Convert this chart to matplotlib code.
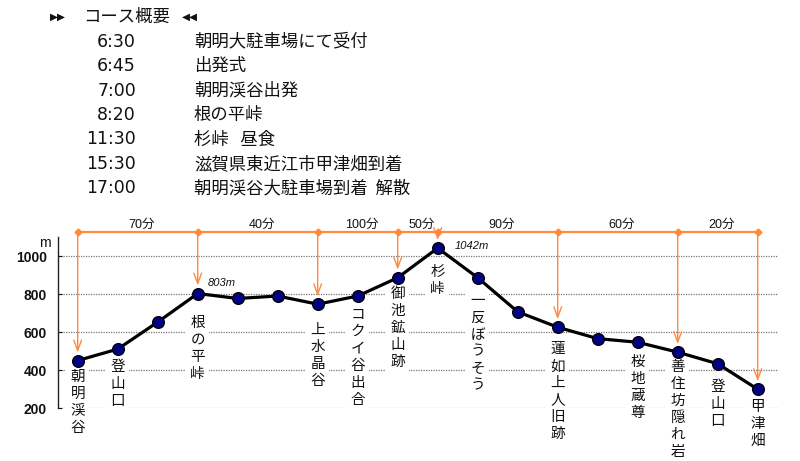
import matplotlib
matplotlib.use('Agg')
import matplotlib.pyplot as plt

# ---------------- data ----------------
place_names = ['朝明渓谷', '登山口', '', '根の平峠', '', '', '上水晶谷', 'コクイ谷出合',
               '御池鉱山跡', '杉峠', '一反ぼうそう', '', '蓮如上人旧跡', '', '桜地蔵尊',
               '善住坊隠れ岩', '登山口', '甲津畑']
elevations = [451, 511, 653, 803, 777, 790, 747, 790, 886, 1042, 886, 707, 626, 566,
              547, 495, 434, 300]
checkpoint_index = [0, 3, 6, 8, 9, 12, 15, 17]
durations = ['70分', '40分', '100分', '50分', '90分', '60分', '20分']
peak_notes = {3: '803m', 9: '1042m'}
y_ticks = [200, 400, 600, 800, 1000]

heading = 'コース概要'
times = ['6:30', '6:45', '7:00', '8:20', '11:30', '15:30', '17:00']
events = ['朝明大駐車場にて受付', '出発式', '朝明渓谷出発', '根の平峠', '杉峠   昼食',
          '滋賀県東近江市甲津畑到着', '朝明渓谷大駐車場到着  解散']

# ---------------- layout ----------------
W, H = 800, 461
PT = 0.72  # points per pixel at dpi 100
label_drop_px = {0: 16, 1: 18, 3: 29, 6: 26, 7: 19, 8: 16, 9: 24, 10: 23,
                 12: 22, 14: 20, 15: 15, 16: 23, 17: 18}
char_step_px = 17
orange = '#ff8a3d'
top_line_value = 1126
duration_value = 1163
CJK = 'Noto Sans CJK JP'

fig = plt.figure(figsize=(W / 100, H / 100), dpi=100)
fig.patch.set_facecolor('white')
ax = fig.add_axes([58 / W, (H - 408.3) / H, 720 / W, 171.3 / H])
ax.set_xlim(-0.4925, 17.5075)
ax.set_ylim(200, 1100)

for s in ['top', 'right', 'bottom']:
    ax.spines[s].set_visible(False)
ax.spines['left'].set_color('#222222')
ax.spines['left'].set_linewidth(1.0)
ax.set_xticks([])
ax.set_yticks(y_ticks)
ax.set_yticklabels([str(v) for v in y_ticks], fontfamily='Liberation Sans',
                   fontweight='bold', fontsize=10)
ax.tick_params(axis='y', direction='in', length=3, width=0.8, pad=8, colors='#111111')
ax.yaxis.grid(True, color='#777777', linestyle=(0, (1, 1)), linewidth=0.9, zorder=1)
ax.set_axisbelow(True)

ax.annotate('m', xy=(0, 1000), xycoords=('axes fraction', 'data'),
            xytext=(-13 * PT, 13.3 * PT), textcoords='offset points',
            ha='center', va='center', fontsize=10, fontfamily='Liberation Sans',
            color='#111111', annotation_clip=False)

# profile line
xs = list(range(len(elevations)))
ax.plot(xs, elevations, color='black', lw=2.3, marker='o', ms=8.5,
        mfc='#000080', mec='black', mew=0.9, zorder=5, solid_joinstyle='round')

# vertical place labels
for i, name in enumerate(place_names):
    if not name:
        continue
    drop = label_drop_px.get(i, 20)
    for k, ch in enumerate(name):
        ax.annotate(ch, xy=(i, elevations[i]), xytext=(0, -(drop + k * char_step_px) * PT),
                    textcoords='offset points', ha='center', va='center',
                    fontsize=10.5, fontfamily=CJK, color='#111111',
                    bbox=dict(boxstyle='square,pad=0.3', fc='white', ec='none'),
                    zorder=3, annotation_clip=False)

# orange timeline
ax.plot([checkpoint_index[0], checkpoint_index[-1]], [top_line_value] * 2,
        color=orange, lw=1.6, clip_on=False, zorder=4)
ax.plot(checkpoint_index, [top_line_value] * len(checkpoint_index), 'D', ms=3.5,
        color=orange, clip_on=False, zorder=4)
for i in checkpoint_index:
    ax.annotate('', xy=(i, elevations[i] + 42), xytext=(i, top_line_value),
                arrowprops=dict(arrowstyle='->,head_length=0.75,head_width=0.28',
                                color=orange, lw=1.0, shrinkA=0, shrinkB=0),
                annotation_clip=False, zorder=4)
for j, d in enumerate(durations):
    mid = (checkpoint_index[j] + checkpoint_index[j + 1]) / 2
    ax.annotate(d, xy=(mid, duration_value), xytext=(4 * PT, 0),
                textcoords='offset points', ha='center', va='center', fontsize=9,
                fontfamily=['Liberation Sans', CJK], color='#111111',
                annotation_clip=False)

# peak notes
note_offsets = {3: (10, 11), 9: (17, 2)}
for i, txt in peak_notes.items():
    dx, dy = note_offsets[i]
    ax.annotate(txt, xy=(i, elevations[i]), xytext=(dx * PT, dy * PT),
                textcoords='offset points', ha='left', va='center', fontsize=8,
                fontstyle='italic', fontfamily='Liberation Sans', color='#111111',
                annotation_clip=False)

# schedule block
def fy(py):
    return 1 - py / H

fig.text(58 / W, fy(17), '▶▶', ha='center', va='center', fontsize=7.5,
         fontfamily='DejaVu Sans', color='#111111')
fig.text(83 / W, fy(17), heading, ha='left', va='center', fontsize=12.5,
         fontfamily=CJK, color='#111111')
fig.text(189.5 / W, fy(17), '◀◀', ha='center', va='center', fontsize=7.5,
         fontfamily='DejaVu Sans', color='#111111')
row_y = [41.7, 66.2, 90.6, 115.0, 139.5, 163.9, 188.3]
for t, e, py in zip(times, events, row_y):
    fig.text(136 / W, fy(py), t, ha='right', va='center', fontsize=12.5,
             fontfamily='DejaVu Sans', color='#111111')
    fig.text(194 / W, fy(py), e, ha='left', va='center', fontsize=12.5,
             fontfamily=CJK, color='#111111')

fig.savefig('out.png', dpi=100, facecolor='white')
